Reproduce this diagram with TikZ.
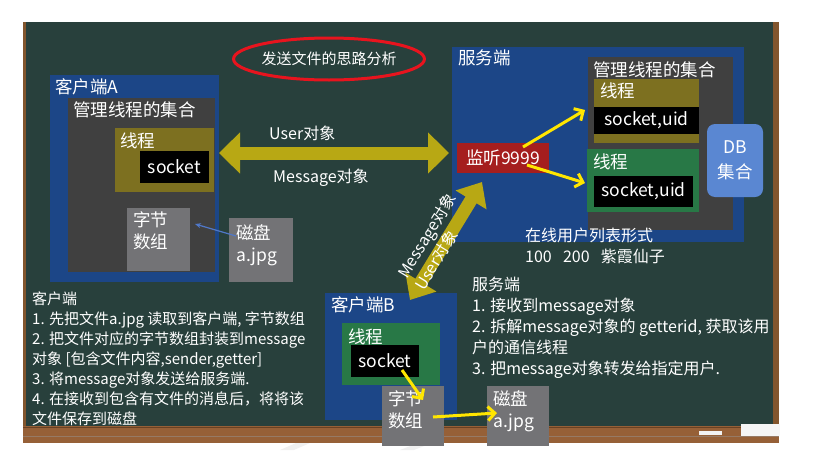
\documentclass[tikz,border=0pt]{standalone}
\usepackage{fontspec}
\setmainfont{Noto Sans CJK SC}
\usepackage{tikz}
\usetikzlibrary{arrows.meta,positioning,shapes.geometric}

\definecolor{board}{RGB}{40,64,60}
\definecolor{frame}{RGB}{130,85,45}
\definecolor{wood}{RGB}{150,96,55}
\definecolor{woodDark}{RGB}{105,65,35}
\definecolor{blueBox}{RGB}{28,70,135}
\definecolor{grayDark}{RGB}{64,64,64}
\definecolor{grayLight}{RGB}{115,115,118}
\definecolor{oliveT}{RGB}{125,112,32}
\definecolor{greenT}{RGB}{40,120,70}
\definecolor{redL}{RGB}{165,30,30}
\definecolor{redRing}{RGB}{232,20,30}
\definecolor{dbBlue}{RGB}{90,135,210}
\definecolor{arrowOlive}{RGB}{184,168,20}
\definecolor{yellowA}{RGB}{255,230,0}
\definecolor{thinBlue}{RGB}{80,120,200}

\begin{document}
\begin{tikzpicture}[x=1pt,y=-1pt,
  box/.style={anchor=north west,inner sep=0pt,outer sep=0pt,text=white,
    font=\fontsize{17.5pt}{22pt}\selectfont},
  lbl/.style={text=white,inner sep=0pt,anchor=west,align=left,
    font=\fontsize{17.5pt}{22pt}\selectfont},
  txt/.style={text=white,inner sep=0pt,anchor=west,align=left,
    font=\fontsize{15pt}{20pt}\selectfont},
  big txt/.style={txt,font=\fontsize{16pt}{21pt}\selectfont},
  fat/.style={line width=13pt,draw=arrowOlive,
    {Triangle[length=21pt,width=#1]}-{Triangle[length=21pt,width=#1]}},
  fat/.default=40pt,
  chalk/.style={line width=3pt,draw=yellowA,-{Straight Barb[length=7pt,width=14pt]}}]

  \useasboundingbox (0,0) rectangle (814,450);

  % the board
  \fill[board] (23,22) rectangle (779,427);
  \fill[frame] (23,22) rectangle (26,427);
  \fill[frame] (773,22) rectangle (779,427);
  \fill[wood] (23,426) rectangle (779,443);
  \draw[woodDark,line width=1.5pt] (23,427.5) -- (779,427.5);
  \draw[woodDark!70,line width=1pt] (23,436) -- (779,436);
  \fill[gray!8] (741,424) rectangle (780,436);
  \fill[gray!10] (699,431) rectangle (722,435);
  \fill[gray!12] (280,450) -- (296,443) -- (310,443) -- (294,450) -- cycle;
  \fill[gray!12] (400,450) -- (418,443) -- (432,443) -- (414,450) -- cycle;

  % client A
  \node[box,fill=blueBox,minimum width=169pt,minimum height=207pt] (clientA) at (50,75) {};
  \node[box,fill=grayDark,minimum width=147pt,minimum height=174pt] (setA) at (68,98) {};
  \node[box,fill=oliveT,minimum width=99pt,minimum height=64pt] (threadA) at (115,128) {};
  \node[box,fill=black,minimum width=69pt,minimum height=32pt] (sockA) at (140,151) {socket};
  \node[box,fill=grayLight,minimum width=63pt,minimum height=63pt] (bytesA) at (127,208) {};
  \node[box,fill=grayLight,minimum width=64pt,minimum height=64pt] (diskA) at (229,218) {};

  % server
  \node[box,fill=blueBox,minimum width=292pt,minimum height=195pt] (server) at (452,47) {};
  \node[box,fill=grayDark,minimum width=145pt,minimum height=173pt] (setS) at (588,57) {};
  \node[box,fill=oliveT,minimum width=105pt,minimum height=64pt] (threadSa) at (594,79) {};
  \node[box,fill=black,minimum width=105pt,minimum height=27pt] (sockSa) at (594,107) {socket,uid};
  \node[box,fill=greenT,minimum width=112pt,minimum height=63pt] (threadSb) at (587,149) {};
  \node[box,fill=black,minimum width=99pt,minimum height=31pt] (sockSb) at (594,176) {socket,uid};
  \node[box,fill=dbBlue,rounded corners=8pt,minimum width=56pt,minimum height=73pt,
    align=center,font=\fontsize{17.5pt}{25pt}\selectfont] (db) at (707,124) {DB\\集合};
  \node[box,fill=redL,minimum width=92pt,minimum height=30pt] (listen) at (457,143) {监听9999};

  % client B
  \node[box,fill=blueBox,minimum width=132pt,minimum height=127pt] (clientB) at (325,293) {};
  \node[box,fill=greenT,minimum width=98pt,minimum height=62pt] (threadB) at (342,323) {};
  \node[box,fill=black,minimum width=68pt,minimum height=32pt] (sockB) at (351,345) {socket};
  \node[box,fill=grayLight,minimum width=62pt,minimum height=60pt] (bytesB) at (382,386) {};
  \node[box,fill=grayLight,minimum width=62pt,minimum height=60pt] (diskB) at (487,386) {};

  % labels
  \node[lbl] (labA) at (55,87) {客户端A};
  \node[lbl] (labSetA) at (73,110) {管理线程的集合};
  \node[lbl] (labThA) at (120,141) {线程};
  \node[lbl] (labBytesA) at (133,231) {字节\\数组};
  \node[lbl] (labDiskA) at (236,245) {磁盘\\a.jpg};
  \node[lbl] (labS) at (458,58) {服务端};
  \node[lbl] (labSetS) at (593,70) {管理线程的集合};
  \node[lbl] (labThSa) at (600,91) {线程};
  \node[lbl] (labThSb) at (593,162) {线程};
  \node[lbl] (labB) at (331,305) {客户端B};
  \node[lbl] (labThB) at (348,337) {线程};
  \node[lbl] (labBytesB) at (388,409.5) {字节\\数组};
  \node[lbl] (labDiskB) at (493,411) {磁盘\\a.jpg};

  \node[ellipse,draw=redRing,line width=3pt,minimum width=152pt,minimum height=42pt,
    inner sep=0pt,text=white,font=\fontsize{15pt}{18pt}\selectfont] (title) at (329,59) {发送文件的思路分析};

  % connectors
  \draw[fat] ([xshift=5pt,yshift=7pt]threadA.east) -- ([xshift=-8pt,yshift=5pt]listen.west);
  \draw[fat=35pt] ([xshift=19pt,yshift=-7pt]clientB.north) -- ([xshift=-21pt,yshift=-9pt]listen.south);
  \draw[chalk] ([xshift=-26pt,yshift=-4pt]listen.north east) -- ([xshift=-9pt,yshift=1pt]threadSa.west);
  \draw[chalk] ([xshift=-22pt,yshift=8pt]listen.south east) -- ([xshift=-2pt,yshift=-2.5pt]threadSb.west);
  \draw[chalk] ([xshift=17pt,yshift=7pt]sockB.south) -- ([xshift=10pt,yshift=-14pt]bytesB.north);
  \draw[chalk] ([xshift=-11pt,yshift=-1pt]bytesB.east) -- ([xshift=10pt,yshift=3pt]diskB.west);
  \draw[thinBlue,line width=1.2pt,-{Stealth[length=6pt,width=5pt]}]
    ([xshift=7pt,yshift=14pt]diskA.west) -- ([xshift=5pt,yshift=15.5pt]bytesA.east);

  \node[big txt] (userA) at (269,133) {User对象};
  \node[big txt] (msgA) at (273,178) {Message对象};
  \node[big txt,anchor=center,rotate=58.6] (msgB) at (428,236) {Message对象};
  \node[big txt,anchor=center,rotate=58.6] (userB) at (436,260) {User对象};

  % notes
  \node[txt] (noteA) at (32,359) {客户端\\
    1. 先把文件a.jpg 读取到客户端, 字节数组\\
    2. 把文件对应的字节数组封装到message\\
    对象 [包含文件内容,sender,getter]\\
    3. 将message对象发送给服务端.\\
    4. 在接收到包含有文件的消息后，将将该\\
    文件保存到磁盘};
  \node[big txt] (online) at (525,245.5) {在线用户列表形式\\
    100\hspace{0.7em}200\hspace{0.7em}紫霞仙子};
  \node[big txt] (noteS) at (472,327.5) {服务端\\
    1. 接收到message对象\\
    2. 拆解message对象的 getterid, 获取该用\\
    户的通信线程\\
    3. 把message对象转发给指定用户.};
\end{tikzpicture}
\end{document}
